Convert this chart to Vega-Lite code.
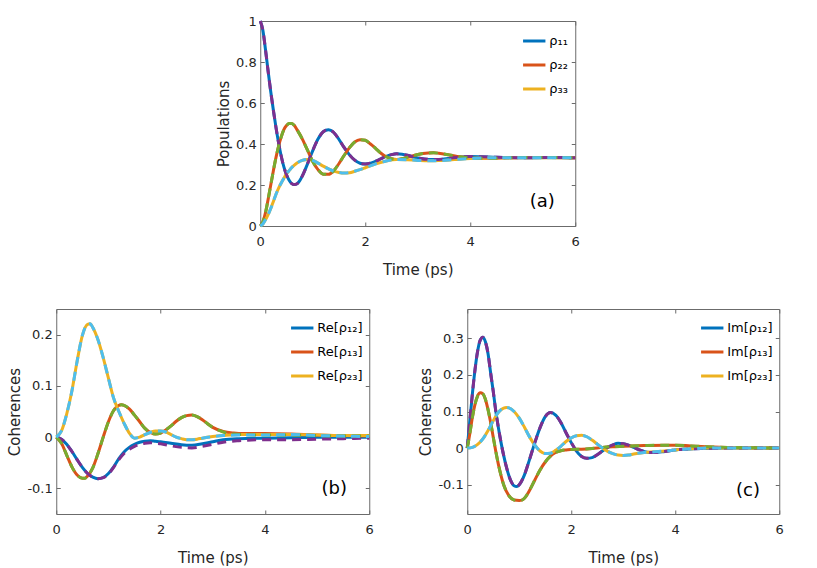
{
  "$schema": "https://vega.github.io/schema/vega-lite/v6.json",
  "padding": {"left": 7, "top": 14, "right": 5, "bottom": 2},
  "datasets": {
    "a": [
      {"s":"ρ₁₁","t":0,"v":1},{"s":"ρ₁₁","t":0.05,"v":0.955},{"s":"ρ₁₁","t":0.1,"v":0.86},{"s":"ρ₁₁","t":0.15,"v":0.755},{"s":"ρ₁₁","t":0.2,"v":0.655},{"s":"ρ₁₁","t":0.25,"v":0.565},{"s":"ρ₁₁","t":0.3,"v":0.48},{"s":"ρ₁₁","t":0.35,"v":0.405},{"s":"ρ₁₁","t":0.4,"v":0.34},{"s":"ρ₁₁","t":0.45,"v":0.288},{"s":"ρ₁₁","t":0.5,"v":0.25},{"s":"ρ₁₁","t":0.55,"v":0.223},{"s":"ρ₁₁","t":0.6,"v":0.207},{"s":"ρ₁₁","t":0.65,"v":0.202},{"s":"ρ₁₁","t":0.7,"v":0.206},{"s":"ρ₁₁","t":0.75,"v":0.22},{"s":"ρ₁₁","t":0.8,"v":0.243},{"s":"ρ₁₁","t":0.9,"v":0.303},{"s":"ρ₁₁","t":1.0,"v":0.368},{"s":"ρ₁₁","t":1.1,"v":0.424},{"s":"ρ₁₁","t":1.2,"v":0.46},{"s":"ρ₁₁","t":1.3,"v":0.47},{"s":"ρ₁₁","t":1.4,"v":0.456},{"s":"ρ₁₁","t":1.5,"v":0.422},{"s":"ρ₁₁","t":1.6,"v":0.382},{"s":"ρ₁₁","t":1.7,"v":0.347},{"s":"ρ₁₁","t":1.8,"v":0.321},{"s":"ρ₁₁","t":1.9,"v":0.306},{"s":"ρ₁₁","t":2.0,"v":0.302},{"s":"ρ₁₁","t":2.1,"v":0.306},{"s":"ρ₁₁","t":2.2,"v":0.316},{"s":"ρ₁₁","t":2.3,"v":0.328},{"s":"ρ₁₁","t":2.4,"v":0.34},{"s":"ρ₁₁","t":2.5,"v":0.348},{"s":"ρ₁₁","t":2.6,"v":0.352},{"s":"ρ₁₁","t":2.7,"v":0.35},{"s":"ρ₁₁","t":2.8,"v":0.345},{"s":"ρ₁₁","t":2.9,"v":0.338},{"s":"ρ₁₁","t":3.0,"v":0.332},{"s":"ρ₁₁","t":3.2,"v":0.325},{"s":"ρ₁₁","t":3.4,"v":0.325},{"s":"ρ₁₁","t":3.6,"v":0.33},{"s":"ρ₁₁","t":3.8,"v":0.336},{"s":"ρ₁₁","t":4.0,"v":0.339},{"s":"ρ₁₁","t":4.2,"v":0.338},{"s":"ρ₁₁","t":4.5,"v":0.335},{"s":"ρ₁₁","t":5.0,"v":0.333},{"s":"ρ₁₁","t":5.5,"v":0.334},{"s":"ρ₁₁","t":6.0,"v":0.333},
      {"s":"ρ₂₂","t":0,"v":0},{"s":"ρ₂₂","t":0.05,"v":0.02},{"s":"ρ₂₂","t":0.1,"v":0.065},{"s":"ρ₂₂","t":0.15,"v":0.13},{"s":"ρ₂₂","t":0.2,"v":0.2},{"s":"ρ₂₂","t":0.25,"v":0.27},{"s":"ρ₂₂","t":0.3,"v":0.335},{"s":"ρ₂₂","t":0.35,"v":0.39},{"s":"ρ₂₂","t":0.4,"v":0.435},{"s":"ρ₂₂","t":0.45,"v":0.47},{"s":"ρ₂₂","t":0.5,"v":0.49},{"s":"ρ₂₂","t":0.55,"v":0.5},{"s":"ρ₂₂","t":0.6,"v":0.5},{"s":"ρ₂₂","t":0.65,"v":0.49},{"s":"ρ₂₂","t":0.7,"v":0.47},{"s":"ρ₂₂","t":0.8,"v":0.425},{"s":"ρ₂₂","t":0.9,"v":0.37},{"s":"ρ₂₂","t":1.0,"v":0.315},{"s":"ρ₂₂","t":1.1,"v":0.275},{"s":"ρ₂₂","t":1.2,"v":0.253},{"s":"ρ₂₂","t":1.3,"v":0.252},{"s":"ρ₂₂","t":1.4,"v":0.27},{"s":"ρ₂₂","t":1.5,"v":0.305},{"s":"ρ₂₂","t":1.6,"v":0.345},{"s":"ρ₂₂","t":1.7,"v":0.382},{"s":"ρ₂₂","t":1.8,"v":0.41},{"s":"ρ₂₂","t":1.9,"v":0.421},{"s":"ρ₂₂","t":2.0,"v":0.418},{"s":"ρ₂₂","t":2.1,"v":0.4},{"s":"ρ₂₂","t":2.2,"v":0.378},{"s":"ρ₂₂","t":2.3,"v":0.355},{"s":"ρ₂₂","t":2.4,"v":0.338},{"s":"ρ₂₂","t":2.5,"v":0.328},{"s":"ρ₂₂","t":2.6,"v":0.325},{"s":"ρ₂₂","t":2.7,"v":0.328},{"s":"ρ₂₂","t":2.8,"v":0.335},{"s":"ρ₂₂","t":3.0,"v":0.349},{"s":"ρ₂₂","t":3.2,"v":0.356},{"s":"ρ₂₂","t":3.3,"v":0.357},{"s":"ρ₂₂","t":3.4,"v":0.355},{"s":"ρ₂₂","t":3.6,"v":0.347},{"s":"ρ₂₂","t":3.8,"v":0.338},{"s":"ρ₂₂","t":4.0,"v":0.332},{"s":"ρ₂₂","t":4.2,"v":0.33},{"s":"ρ₂₂","t":4.5,"v":0.331},{"s":"ρ₂₂","t":5.0,"v":0.334},{"s":"ρ₂₂","t":5.5,"v":0.334},{"s":"ρ₂₂","t":6.0,"v":0.333},
      {"s":"ρ₃₃","t":0,"v":0},{"s":"ρ₃₃","t":0.05,"v":0.01},{"s":"ρ₃₃","t":0.1,"v":0.03},{"s":"ρ₃₃","t":0.15,"v":0.055},{"s":"ρ₃₃","t":0.2,"v":0.085},{"s":"ρ₃₃","t":0.25,"v":0.12},{"s":"ρ₃₃","t":0.3,"v":0.155},{"s":"ρ₃₃","t":0.35,"v":0.185},{"s":"ρ₃₃","t":0.4,"v":0.21},{"s":"ρ₃₃","t":0.45,"v":0.233},{"s":"ρ₃₃","t":0.5,"v":0.255},{"s":"ρ₃₃","t":0.55,"v":0.27},{"s":"ρ₃₃","t":0.6,"v":0.285},{"s":"ρ₃₃","t":0.65,"v":0.297},{"s":"ρ₃₃","t":0.7,"v":0.307},{"s":"ρ₃₃","t":0.8,"v":0.32},{"s":"ρ₃₃","t":0.9,"v":0.325},{"s":"ρ₃₃","t":1.0,"v":0.32},{"s":"ρ₃₃","t":1.1,"v":0.307},{"s":"ρ₃₃","t":1.2,"v":0.292},{"s":"ρ₃₃","t":1.3,"v":0.279},{"s":"ρ₃₃","t":1.4,"v":0.268},{"s":"ρ₃₃","t":1.5,"v":0.261},{"s":"ρ₃₃","t":1.6,"v":0.258},{"s":"ρ₃₃","t":1.7,"v":0.26},{"s":"ρ₃₃","t":1.8,"v":0.267},{"s":"ρ₃₃","t":1.9,"v":0.275},{"s":"ρ₃₃","t":2.0,"v":0.284},{"s":"ρ₃₃","t":2.2,"v":0.303},{"s":"ρ₃₃","t":2.4,"v":0.317},{"s":"ρ₃₃","t":2.6,"v":0.324},{"s":"ρ₃₃","t":2.8,"v":0.323},{"s":"ρ₃₃","t":3.0,"v":0.32},{"s":"ρ₃₃","t":3.2,"v":0.318},{"s":"ρ₃₃","t":3.4,"v":0.319},{"s":"ρ₃₃","t":3.6,"v":0.322},{"s":"ρ₃₃","t":3.8,"v":0.326},{"s":"ρ₃₃","t":4.0,"v":0.329},{"s":"ρ₃₃","t":4.5,"v":0.333},{"s":"ρ₃₃","t":5.0,"v":0.333},{"s":"ρ₃₃","t":6.0,"v":0.333}
    ],
    "b": [
      {"s":"Re[ρ₁₂]","t":0,"v":0,"d":0},{"s":"Re[ρ₁₂]","t":0.1,"v":-0.004,"d":-0.004},{"s":"Re[ρ₁₂]","t":0.2,"v":-0.014,"d":-0.014},{"s":"Re[ρ₁₂]","t":0.3,"v":-0.028,"d":-0.028},{"s":"Re[ρ₁₂]","t":0.4,"v":-0.044,"d":-0.044},{"s":"Re[ρ₁₂]","t":0.5,"v":-0.059,"d":-0.059},{"s":"Re[ρ₁₂]","t":0.6,"v":-0.071,"d":-0.071},{"s":"Re[ρ₁₂]","t":0.7,"v":-0.078,"d":-0.078},{"s":"Re[ρ₁₂]","t":0.8,"v":-0.081,"d":-0.081},{"s":"Re[ρ₁₂]","t":0.9,"v":-0.079,"d":-0.079},{"s":"Re[ρ₁₂]","t":1.0,"v":-0.071,"d":-0.072},{"s":"Re[ρ₁₂]","t":1.1,"v":-0.058,"d":-0.059},{"s":"Re[ρ₁₂]","t":1.2,"v":-0.042,"d":-0.044},{"s":"Re[ρ₁₂]","t":1.3,"v":-0.029,"d":-0.032},{"s":"Re[ρ₁₂]","t":1.4,"v":-0.02,"d":-0.024},{"s":"Re[ρ₁₂]","t":1.5,"v":-0.014,"d":-0.018},{"s":"Re[ρ₁₂]","t":1.6,"v":-0.01,"d":-0.014},{"s":"Re[ρ₁₂]","t":1.7,"v":-0.008,"d":-0.012},{"s":"Re[ρ₁₂]","t":1.8,"v":-0.007,"d":-0.011},{"s":"Re[ρ₁₂]","t":1.9,"v":-0.008,"d":-0.012},{"s":"Re[ρ₁₂]","t":2.0,"v":-0.009,"d":-0.013},{"s":"Re[ρ₁₂]","t":2.2,"v":-0.012,"d":-0.017},{"s":"Re[ρ₁₂]","t":2.4,"v":-0.015,"d":-0.02},{"s":"Re[ρ₁₂]","t":2.6,"v":-0.016,"d":-0.021},{"s":"Re[ρ₁₂]","t":2.8,"v":-0.013,"d":-0.018},{"s":"Re[ρ₁₂]","t":3.0,"v":-0.009,"d":-0.014},{"s":"Re[ρ₁₂]","t":3.2,"v":-0.005,"d":-0.01},{"s":"Re[ρ₁₂]","t":3.5,"v":-0.003,"d":-0.007},{"s":"Re[ρ₁₂]","t":4.0,"v":-0.002,"d":-0.005},{"s":"Re[ρ₁₂]","t":4.5,"v":-0.001,"d":-0.005},{"s":"Re[ρ₁₂]","t":5.0,"v":0,"d":-0.004},{"s":"Re[ρ₁₂]","t":5.5,"v":0,"d":-0.003},{"s":"Re[ρ₁₂]","t":6.0,"v":0,"d":-0.002},
      {"s":"Re[ρ₁₃]","t":0,"v":0,"d":0},{"s":"Re[ρ₁₃]","t":0.1,"v":-0.012,"d":-0.012},{"s":"Re[ρ₁₃]","t":0.2,"v":-0.035,"d":-0.035},{"s":"Re[ρ₁₃]","t":0.3,"v":-0.058,"d":-0.058},{"s":"Re[ρ₁₃]","t":0.4,"v":-0.074,"d":-0.074},{"s":"Re[ρ₁₃]","t":0.5,"v":-0.08,"d":-0.08},{"s":"Re[ρ₁₃]","t":0.55,"v":-0.08,"d":-0.08},{"s":"Re[ρ₁₃]","t":0.6,"v":-0.076,"d":-0.076},{"s":"Re[ρ₁₃]","t":0.7,"v":-0.06,"d":-0.06},{"s":"Re[ρ₁₃]","t":0.8,"v":-0.032,"d":-0.032},{"s":"Re[ρ₁₃]","t":0.9,"v":0.0,"d":0.0},{"s":"Re[ρ₁₃]","t":1.0,"v":0.03,"d":0.03},{"s":"Re[ρ₁₃]","t":1.1,"v":0.052,"d":0.052},{"s":"Re[ρ₁₃]","t":1.2,"v":0.062,"d":0.062},{"s":"Re[ρ₁₃]","t":1.25,"v":0.063,"d":0.063},{"s":"Re[ρ₁₃]","t":1.3,"v":0.062,"d":0.062},{"s":"Re[ρ₁₃]","t":1.4,"v":0.055,"d":0.055},{"s":"Re[ρ₁₃]","t":1.5,"v":0.043,"d":0.043},{"s":"Re[ρ₁₃]","t":1.6,"v":0.03,"d":0.03},{"s":"Re[ρ₁₃]","t":1.7,"v":0.017,"d":0.017},{"s":"Re[ρ₁₃]","t":1.8,"v":0.009,"d":0.009},{"s":"Re[ρ₁₃]","t":1.9,"v":0.006,"d":0.006},{"s":"Re[ρ₁₃]","t":2.0,"v":0.008,"d":0.008},{"s":"Re[ρ₁₃]","t":2.1,"v":0.014,"d":0.014},{"s":"Re[ρ₁₃]","t":2.2,"v":0.022,"d":0.022},{"s":"Re[ρ₁₃]","t":2.3,"v":0.031,"d":0.031},{"s":"Re[ρ₁₃]","t":2.4,"v":0.038,"d":0.038},{"s":"Re[ρ₁₃]","t":2.5,"v":0.042,"d":0.042},{"s":"Re[ρ₁₃]","t":2.6,"v":0.043,"d":0.043},{"s":"Re[ρ₁₃]","t":2.7,"v":0.04,"d":0.04},{"s":"Re[ρ₁₃]","t":2.8,"v":0.034,"d":0.034},{"s":"Re[ρ₁₃]","t":2.9,"v":0.026,"d":0.026},{"s":"Re[ρ₁₃]","t":3.0,"v":0.019,"d":0.019},{"s":"Re[ρ₁₃]","t":3.2,"v":0.011,"d":0.01},{"s":"Re[ρ₁₃]","t":3.4,"v":0.008,"d":0.006},{"s":"Re[ρ₁₃]","t":3.6,"v":0.007,"d":0.005},{"s":"Re[ρ₁₃]","t":4.0,"v":0.007,"d":0.004},{"s":"Re[ρ₁₃]","t":4.5,"v":0.006,"d":0.004},{"s":"Re[ρ₁₃]","t":5.0,"v":0.004,"d":0.003},{"s":"Re[ρ₁₃]","t":5.5,"v":0.003,"d":0.002},{"s":"Re[ρ₁₃]","t":6.0,"v":0.002,"d":0.002},
      {"s":"Re[ρ₂₃]","t":0,"v":0,"d":0},{"s":"Re[ρ₂₃]","t":0.1,"v":0.012,"d":0.012},{"s":"Re[ρ₂₃]","t":0.2,"v":0.045,"d":0.045},{"s":"Re[ρ₂₃]","t":0.3,"v":0.09,"d":0.09},{"s":"Re[ρ₂₃]","t":0.4,"v":0.148,"d":0.148},{"s":"Re[ρ₂₃]","t":0.5,"v":0.198,"d":0.198},{"s":"Re[ρ₂₃]","t":0.6,"v":0.22,"d":0.22},{"s":"Re[ρ₂₃]","t":0.65,"v":0.221,"d":0.221},{"s":"Re[ρ₂₃]","t":0.7,"v":0.214,"d":0.214},{"s":"Re[ρ₂₃]","t":0.8,"v":0.19,"d":0.19},{"s":"Re[ρ₂₃]","t":0.9,"v":0.155,"d":0.155},{"s":"Re[ρ₂₃]","t":1.0,"v":0.115,"d":0.115},{"s":"Re[ρ₂₃]","t":1.1,"v":0.076,"d":0.076},{"s":"Re[ρ₂₃]","t":1.2,"v":0.05,"d":0.05},{"s":"Re[ρ₂₃]","t":1.3,"v":0.027,"d":0.027},{"s":"Re[ρ₂₃]","t":1.4,"v":0.008,"d":0.008},{"s":"Re[ρ₂₃]","t":1.5,"v":-0.002,"d":-0.002},{"s":"Re[ρ₂₃]","t":1.6,"v":0.0,"d":0.0},{"s":"Re[ρ₂₃]","t":1.7,"v":0.005,"d":0.005},{"s":"Re[ρ₂₃]","t":1.8,"v":0.009,"d":0.009},{"s":"Re[ρ₂₃]","t":1.9,"v":0.012,"d":0.012},{"s":"Re[ρ₂₃]","t":2.0,"v":0.012,"d":0.012},{"s":"Re[ρ₂₃]","t":2.1,"v":0.01,"d":0.01},{"s":"Re[ρ₂₃]","t":2.2,"v":0.005,"d":0.005},{"s":"Re[ρ₂₃]","t":2.3,"v":0.0,"d":0.0},{"s":"Re[ρ₂₃]","t":2.4,"v":-0.003,"d":-0.003},{"s":"Re[ρ₂₃]","t":2.5,"v":-0.005,"d":-0.005},{"s":"Re[ρ₂₃]","t":2.6,"v":-0.005,"d":-0.005},{"s":"Re[ρ₂₃]","t":2.7,"v":-0.004,"d":-0.004},{"s":"Re[ρ₂₃]","t":2.8,"v":-0.002,"d":-0.002},{"s":"Re[ρ₂₃]","t":3.0,"v":0.001,"d":0.001},{"s":"Re[ρ₂₃]","t":3.2,"v":0.003,"d":0.003},{"s":"Re[ρ₂₃]","t":3.5,"v":0.005,"d":0.004},{"s":"Re[ρ₂₃]","t":4.0,"v":0.005,"d":0.004},{"s":"Re[ρ₂₃]","t":4.5,"v":0.005,"d":0.005},{"s":"Re[ρ₂₃]","t":5.0,"v":0.004,"d":0.003},{"s":"Re[ρ₂₃]","t":5.5,"v":0.003,"d":0.002},{"s":"Re[ρ₂₃]","t":6.0,"v":0.003,"d":0.001}
    ],
    "c": [
      {"s":"Im[ρ₁₂]","t":0,"v":0},{"s":"Im[ρ₁₂]","t":0.05,"v":0.075},{"s":"Im[ρ₁₂]","t":0.1,"v":0.15},{"s":"Im[ρ₁₂]","t":0.15,"v":0.215},{"s":"Im[ρ₁₂]","t":0.2,"v":0.265},{"s":"Im[ρ₁₂]","t":0.25,"v":0.295},{"s":"Im[ρ₁₂]","t":0.3,"v":0.303},{"s":"Im[ρ₁₂]","t":0.35,"v":0.29},{"s":"Im[ρ₁₂]","t":0.4,"v":0.258},{"s":"Im[ρ₁₂]","t":0.45,"v":0.205},{"s":"Im[ρ₁₂]","t":0.5,"v":0.155},{"s":"Im[ρ₁₂]","t":0.55,"v":0.1},{"s":"Im[ρ₁₂]","t":0.6,"v":0.055},{"s":"Im[ρ₁₂]","t":0.65,"v":0.015},{"s":"Im[ρ₁₂]","t":0.7,"v":-0.02},{"s":"Im[ρ₁₂]","t":0.75,"v":-0.05},{"s":"Im[ρ₁₂]","t":0.8,"v":-0.075},{"s":"Im[ρ₁₂]","t":0.85,"v":-0.093},{"s":"Im[ρ₁₂]","t":0.9,"v":-0.103},{"s":"Im[ρ₁₂]","t":0.95,"v":-0.105},{"s":"Im[ρ₁₂]","t":1.0,"v":-0.1},{"s":"Im[ρ₁₂]","t":1.1,"v":-0.073},{"s":"Im[ρ₁₂]","t":1.2,"v":-0.03},{"s":"Im[ρ₁₂]","t":1.3,"v":0.015},{"s":"Im[ρ₁₂]","t":1.4,"v":0.056},{"s":"Im[ρ₁₂]","t":1.5,"v":0.086},{"s":"Im[ρ₁₂]","t":1.6,"v":0.097},{"s":"Im[ρ₁₂]","t":1.7,"v":0.09},{"s":"Im[ρ₁₂]","t":1.8,"v":0.07},{"s":"Im[ρ₁₂]","t":1.9,"v":0.042},{"s":"Im[ρ₁₂]","t":2.0,"v":0.015},{"s":"Im[ρ₁₂]","t":2.1,"v":-0.008},{"s":"Im[ρ₁₂]","t":2.2,"v":-0.023},{"s":"Im[ρ₁₂]","t":2.3,"v":-0.028},{"s":"Im[ρ₁₂]","t":2.4,"v":-0.026},{"s":"Im[ρ₁₂]","t":2.5,"v":-0.018},{"s":"Im[ρ₁₂]","t":2.6,"v":-0.008},{"s":"Im[ρ₁₂]","t":2.7,"v":0.002},{"s":"Im[ρ₁₂]","t":2.8,"v":0.009},{"s":"Im[ρ₁₂]","t":2.9,"v":0.013},{"s":"Im[ρ₁₂]","t":3.0,"v":0.012},{"s":"Im[ρ₁₂]","t":3.1,"v":0.008},{"s":"Im[ρ₁₂]","t":3.2,"v":0.002},{"s":"Im[ρ₁₂]","t":3.3,"v":-0.004},{"s":"Im[ρ₁₂]","t":3.4,"v":-0.009},{"s":"Im[ρ₁₂]","t":3.5,"v":-0.012},{"s":"Im[ρ₁₂]","t":3.6,"v":-0.012},{"s":"Im[ρ₁₂]","t":3.8,"v":-0.009},{"s":"Im[ρ₁₂]","t":4.0,"v":-0.005},{"s":"Im[ρ₁₂]","t":4.2,"v":-0.003},{"s":"Im[ρ₁₂]","t":4.5,"v":-0.001},{"s":"Im[ρ₁₂]","t":5.0,"v":0},{"s":"Im[ρ₁₂]","t":6.0,"v":0},
      {"s":"Im[ρ₁₃]","t":0,"v":0},{"s":"Im[ρ₁₃]","t":0.05,"v":0.04},{"s":"Im[ρ₁₃]","t":0.1,"v":0.085},{"s":"Im[ρ₁₃]","t":0.15,"v":0.12},{"s":"Im[ρ₁₃]","t":0.2,"v":0.143},{"s":"Im[ρ₁₃]","t":0.25,"v":0.151},{"s":"Im[ρ₁₃]","t":0.3,"v":0.148},{"s":"Im[ρ₁₃]","t":0.35,"v":0.133},{"s":"Im[ρ₁₃]","t":0.4,"v":0.105},{"s":"Im[ρ₁₃]","t":0.45,"v":0.07},{"s":"Im[ρ₁₃]","t":0.5,"v":0.03},{"s":"Im[ρ₁₃]","t":0.55,"v":-0.01},{"s":"Im[ρ₁₃]","t":0.6,"v":-0.045},{"s":"Im[ρ₁₃]","t":0.7,"v":-0.1},{"s":"Im[ρ₁₃]","t":0.8,"v":-0.13},{"s":"Im[ρ₁₃]","t":0.9,"v":-0.142},{"s":"Im[ρ₁₃]","t":1.0,"v":-0.143},{"s":"Im[ρ₁₃]","t":1.05,"v":-0.142},{"s":"Im[ρ₁₃]","t":1.1,"v":-0.137},{"s":"Im[ρ₁₃]","t":1.2,"v":-0.115},{"s":"Im[ρ₁₃]","t":1.3,"v":-0.087},{"s":"Im[ρ₁₃]","t":1.4,"v":-0.06},{"s":"Im[ρ₁₃]","t":1.5,"v":-0.038},{"s":"Im[ρ₁₃]","t":1.6,"v":-0.022},{"s":"Im[ρ₁₃]","t":1.7,"v":-0.012},{"s":"Im[ρ₁₃]","t":1.8,"v":-0.007},{"s":"Im[ρ₁₃]","t":1.9,"v":-0.005},{"s":"Im[ρ₁₃]","t":2.0,"v":-0.004},{"s":"Im[ρ₁₃]","t":2.2,"v":-0.003},{"s":"Im[ρ₁₃]","t":2.4,"v":-0.001},{"s":"Im[ρ₁₃]","t":2.6,"v":0.002},{"s":"Im[ρ₁₃]","t":2.8,"v":0.004},{"s":"Im[ρ₁₃]","t":3.0,"v":0.005},{"s":"Im[ρ₁₃]","t":3.4,"v":0.007},{"s":"Im[ρ₁₃]","t":3.8,"v":0.008},{"s":"Im[ρ₁₃]","t":4.0,"v":0.008},{"s":"Im[ρ₁₃]","t":4.3,"v":0.006},{"s":"Im[ρ₁₃]","t":4.6,"v":0.004},{"s":"Im[ρ₁₃]","t":5.0,"v":0.002},{"s":"Im[ρ₁₃]","t":5.5,"v":0.001},{"s":"Im[ρ₁₃]","t":6.0,"v":0},
      {"s":"Im[ρ₂₃]","t":0,"v":0},{"s":"Im[ρ₂₃]","t":0.1,"v":0.002},{"s":"Im[ρ₂₃]","t":0.2,"v":0.01},{"s":"Im[ρ₂₃]","t":0.3,"v":0.025},{"s":"Im[ρ₂₃]","t":0.4,"v":0.048},{"s":"Im[ρ₂₃]","t":0.5,"v":0.075},{"s":"Im[ρ₂₃]","t":0.6,"v":0.098},{"s":"Im[ρ₂₃]","t":0.7,"v":0.109},{"s":"Im[ρ₂₃]","t":0.75,"v":0.111},{"s":"Im[ρ₂₃]","t":0.8,"v":0.11},{"s":"Im[ρ₂₃]","t":0.9,"v":0.1},{"s":"Im[ρ₂₃]","t":1.0,"v":0.082},{"s":"Im[ρ₂₃]","t":1.1,"v":0.057},{"s":"Im[ρ₂₃]","t":1.2,"v":0.03},{"s":"Im[ρ₂₃]","t":1.3,"v":0.008},{"s":"Im[ρ₂₃]","t":1.4,"v":-0.008},{"s":"Im[ρ₂₃]","t":1.5,"v":-0.015},{"s":"Im[ρ₂₃]","t":1.6,"v":-0.014},{"s":"Im[ρ₂₃]","t":1.7,"v":-0.006},{"s":"Im[ρ₂₃]","t":1.8,"v":0.005},{"s":"Im[ρ₂₃]","t":1.9,"v":0.018},{"s":"Im[ρ₂₃]","t":2.0,"v":0.028},{"s":"Im[ρ₂₃]","t":2.1,"v":0.034},{"s":"Im[ρ₂₃]","t":2.2,"v":0.035},{"s":"Im[ρ₂₃]","t":2.3,"v":0.031},{"s":"Im[ρ₂₃]","t":2.4,"v":0.022},{"s":"Im[ρ₂₃]","t":2.5,"v":0.011},{"s":"Im[ρ₂₃]","t":2.6,"v":0.0},{"s":"Im[ρ₂₃]","t":2.7,"v":-0.009},{"s":"Im[ρ₂₃]","t":2.8,"v":-0.015},{"s":"Im[ρ₂₃]","t":2.9,"v":-0.019},{"s":"Im[ρ₂₃]","t":3.0,"v":-0.02},{"s":"Im[ρ₂₃]","t":3.1,"v":-0.019},{"s":"Im[ρ₂₃]","t":3.2,"v":-0.016},{"s":"Im[ρ₂₃]","t":3.4,"v":-0.012},{"s":"Im[ρ₂₃]","t":3.6,"v":-0.01},{"s":"Im[ρ₂₃]","t":3.8,"v":-0.008},{"s":"Im[ρ₂₃]","t":4.0,"v":-0.005},{"s":"Im[ρ₂₃]","t":4.3,"v":-0.002},{"s":"Im[ρ₂₃]","t":4.6,"v":0},{"s":"Im[ρ₂₃]","t":5.0,"v":0},{"s":"Im[ρ₂₃]","t":6.0,"v":0}
    ]
  },
  "vconcat": [
    {
      "width": 315, "height": 205,
      "data": {"name": "a"},
      "layer": [
        {"mark": {"type": "line", "strokeWidth": 3, "interpolate": "monotone"},
         "encoding": {
           "x": {"field": "t", "type": "quantitative", "scale": {"domain": [0, 6], "nice": false}, "axis": {"orient": "bottom", "values": [0, 2, 4, 6], "title": "Time (ps)"}},
           "y": {"field": "v", "type": "quantitative", "scale": {"domain": [0, 1], "nice": false}, "axis": {"orient": "left", "values": [0, 0.2, 0.4, 0.6, 0.8, 1], "title": "Populations"}},
           "color": {"field": "s", "type": "nominal", "scale": {"domain": ["ρ₁₁", "ρ₂₂", "ρ₃₃"], "range": ["#0072BD", "#D95319", "#EDB120"]}, "legend": {"title": null, "orient": "top-right", "offset": 7}}
         }},
        {"mark": {"type": "line", "strokeWidth": 3, "strokeDash": [9, 6], "interpolate": "monotone"},
         "encoding": {
           "x": {"field": "t", "type": "quantitative", "axis": {"orient": "top", "values": [0, 2, 4, 6], "labels": false, "title": null}},
           "y": {"field": "v", "type": "quantitative", "axis": {"orient": "right", "values": [0, 0.2, 0.4, 0.6, 0.8, 1], "labels": false, "title": null}},
           "stroke": {"field": "s", "type": "nominal", "scale": {"domain": ["ρ₁₁", "ρ₂₂", "ρ₃₃"], "range": ["#7E2F8E", "#77AC30", "#4DBEEE"]}, "legend": null}
         }},
        {"data": {"values": [{}]},
         "mark": {"type": "text", "fontSize": 18, "color": "#000000"},
         "encoding": {
           "x": {"datum": 5.37, "type": "quantitative", "axis": null},
           "y": {"datum": 0.116, "type": "quantitative", "axis": null},
           "text": {"value": "(a)"}
         }}
      ],
      "resolve": {"axis": {"x": "independent", "y": "independent"}}
    },
    {
      "hconcat": [
        {
          "width": 313, "height": 205,
          "data": {"name": "b"},
          "layer": [
            {"mark": {"type": "line", "strokeWidth": 3, "interpolate": "monotone"},
             "encoding": {
               "x": {"field": "t", "type": "quantitative", "scale": {"domain": [0, 6], "nice": false}, "axis": {"orient": "bottom", "values": [0, 2, 4, 6], "title": "Time (ps)"}},
               "y": {"field": "v", "type": "quantitative", "scale": {"domain": [-0.15, 0.25], "nice": false}, "axis": {"orient": "left", "values": [-0.1, 0, 0.1, 0.2], "title": "Coherences"}},
               "color": {"field": "s", "type": "nominal", "scale": {"domain": ["Re[ρ₁₂]", "Re[ρ₁₃]", "Re[ρ₂₃]"], "range": ["#0072BD", "#D95319", "#EDB120"]}, "legend": {"title": null, "orient": "top-right", "offset": 6}}
             }},
            {"mark": {"type": "line", "strokeWidth": 3, "strokeDash": [9, 6], "interpolate": "monotone"},
             "encoding": {
               "x": {"field": "t", "type": "quantitative", "axis": {"orient": "top", "values": [0, 2, 4, 6], "labels": false, "title": null}},
               "y": {"field": "d", "type": "quantitative", "axis": {"orient": "right", "values": [-0.1, 0, 0.1, 0.2], "labels": false, "title": null}},
               "stroke": {"field": "s", "type": "nominal", "scale": {"domain": ["Re[ρ₁₂]", "Re[ρ₁₃]", "Re[ρ₂₃]"], "range": ["#7E2F8E", "#77AC30", "#4DBEEE"]}, "legend": null}
             }},
            {"data": {"values": [{}]},
             "mark": {"type": "text", "fontSize": 18, "color": "#000000"},
             "encoding": {
               "x": {"datum": 5.33, "type": "quantitative", "axis": null},
               "y": {"datum": -0.102, "type": "quantitative", "axis": null},
               "text": {"value": "(b)"}
             }}
          ],
          "resolve": {"axis": {"x": "independent", "y": "independent"}}
        },
        {
          "width": 312, "height": 205,
          "data": {"name": "c"},
          "layer": [
            {"mark": {"type": "line", "strokeWidth": 3, "interpolate": "monotone"},
             "encoding": {
               "x": {"field": "t", "type": "quantitative", "scale": {"domain": [0, 6], "nice": false}, "axis": {"orient": "bottom", "values": [0, 2, 4, 6], "title": "Time (ps)"}},
               "y": {"field": "v", "type": "quantitative", "scale": {"domain": [-0.18, 0.38], "nice": false}, "axis": {"orient": "left", "values": [-0.1, 0, 0.1, 0.2, 0.3], "title": "Coherences"}},
               "color": {"field": "s", "type": "nominal", "scale": {"domain": ["Im[ρ₁₂]", "Im[ρ₁₃]", "Im[ρ₂₃]"], "range": ["#0072BD", "#D95319", "#EDB120"]}, "legend": {"title": null, "orient": "top-right", "offset": 6}}
             }},
            {"mark": {"type": "line", "strokeWidth": 3, "strokeDash": [9, 6], "interpolate": "monotone"},
             "encoding": {
               "x": {"field": "t", "type": "quantitative", "axis": {"orient": "top", "values": [0, 2, 4, 6], "labels": false, "title": null}},
               "y": {"field": "v", "type": "quantitative", "axis": {"orient": "right", "values": [-0.1, 0, 0.1, 0.2, 0.3], "labels": false, "title": null}},
               "stroke": {"field": "s", "type": "nominal", "scale": {"domain": ["Im[ρ₁₂]", "Im[ρ₁₃]", "Im[ρ₂₃]"], "range": ["#7E2F8E", "#77AC30", "#4DBEEE"]}, "legend": null}
             }},
            {"data": {"values": [{}]},
             "mark": {"type": "text", "fontSize": 18, "color": "#000000"},
             "encoding": {
               "x": {"datum": 5.4, "type": "quantitative", "axis": null},
               "y": {"datum": -0.116, "type": "quantitative", "axis": null},
               "text": {"value": "(c)"}
             }}
          ],
          "resolve": {"axis": {"x": "independent", "y": "independent"}}
        }
      ],
      "spacing": 42,
      "resolve": {"scale": {"color": "independent", "stroke": "independent"}}
    }
  ],
  "spacing": 30,
  "center": true,
  "resolve": {"scale": {"color": "independent", "stroke": "independent"}},
  "config": {
    "font": "DejaVu Sans",
    "background": "#ffffff",
    "view": {"stroke": "#6b6b6b", "strokeWidth": 1},
    "axis": {
      "domain": false, "grid": false, "tickSize": -4, "tickColor": "#6b6b6b", "tickWidth": 1,
      "labelFontSize": 13, "labelColor": "#262626", "labelFlush": false,
      "labelExpr": "replace(format(datum.value, '~g'), '−', '-')",
      "titleFontSize": 15, "titleFontWeight": "normal", "titleColor": "#262626"
    },
    "axisX": {"labelPadding": 13, "titlePadding": 14},
    "axisY": {"labelPadding": 8, "titlePadding": 4},
    "legend": {
      "labelFontSize": 13, "labelColor": "#000000", "symbolType": "stroke", "symbolStrokeWidth": 3,
      "symbolSize": 500, "labelOffset": 2, "rowPadding": 4, "padding": 0
    }
  }
}
